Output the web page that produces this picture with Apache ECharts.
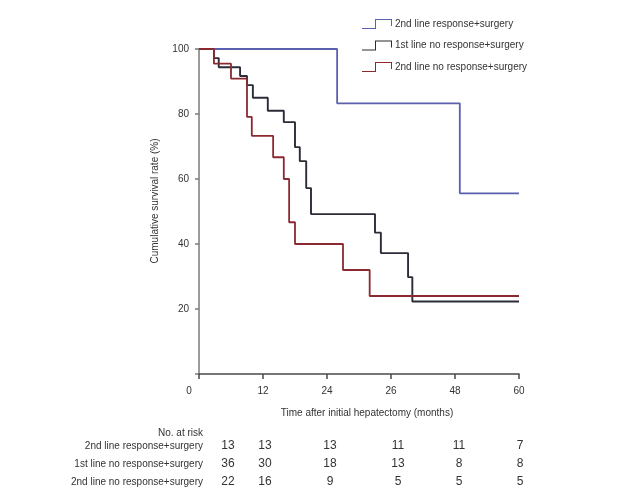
<!DOCTYPE html>
<html>
<head>
<meta charset="utf-8">
<script src="https://cdn.jsdelivr.net/npm/echarts@6/dist/echarts.min.js"></script>
<style>html,body{margin:0;padding:0;background:#fff;}#c{width:640px;height:500px;}</style>
</head>
<body>
<div id="c"></div>
<script>
var seriesNames = ['2nd line response+surgery', '1st line no response+surgery', '2nd line no response+surgery'];
var blueData = [[0,100],[25.9,83.3],[48.9,55.6],[60,55.6]];
var blackData = [[0,100],[2.8,97.2],[3.7,94.4],[7.7,91.7],[9.0,88.9],[10.1,85.0],[12.9,81.0],[15.9,77.5],[18.0,69.8],[18.9,65.5],[20.1,57.2],[21.0,49.2],[33.0,43.5],[34.1,37.2],[39.2,29.8],[40.0,22.3],[60,22.3]];
var redData = [[0,100],[2.8,95.5],[6.0,90.9],[9.0,79.1],[9.9,73.3],[13.9,66.7],[15.9,60.0],[16.9,46.7],[18.0,40.0],[27.0,32.0],[32.0,24.0],[60,24.0]];
var xTickLabels = ['0','12','24','26','48','60'];
var yTickLabels = ['', '20', '40', '60', '80', '100'];
var riskTitle = 'No. at risk';
var riskBlue = [13, 13, 13, 11, 11, 7];
var riskBlack = [36, 30, 18, 13, 8, 8];
var riskRed = [22, 16, 9, 5, 5, 5];
var xTitle = 'Time after initial hepatectomy (months)';
var yTitle = 'Cumulative survival rate (%)';

var FONT = 'Arial, "Liberation Sans", Helvetica, sans-serif';
var colors = ['#5a5fae', '#2b2c38', '#8a2a30'];
var txt = '#333';

var chart = echarts.init(document.getElementById('c'), null, {renderer: 'canvas'});

var iconPath = 'path://M0,9 L13,9 L13,0 L30,0 L30,7 L29,7 L29,1 L14,1 L14,10 L0,10 Z';

var riskRows = [riskBlue, riskBlack, riskRed];
var colX = [228, 265, 330, 398, 459, 520];
var rowY = [446, 464, 482];
var graphics = [];
graphics.push({type:'text', x: 203, y: 433, style:{text: riskTitle, font: '10px ' + FONT, fill: txt, align:'right', verticalAlign:'middle'}});
for (var r = 0; r < 3; r++) {
  graphics.push({type:'text', x: 203, y: rowY[r], style:{text: seriesNames[r], font: '10px ' + FONT, fill: txt, align:'right', verticalAlign:'middle'}});
  for (var c = 0; c < riskRows[r].length; c++) {
    graphics.push({type:'text', x: colX[c], y: rowY[r], style:{text: String(riskRows[r][c]), font: '12px ' + FONT, fill: txt, align:'center', verticalAlign:'middle'}});
  }
}
graphics.push({type:'text', x: 367, y: 413, style:{text: xTitle, font: '10px ' + FONT, fill: txt, align:'center', verticalAlign:'middle'}});
graphics.push({type:'text', x: 155, y: 201, rotation: Math.PI/2, style:{text: yTitle, font: '10px ' + FONT, fill: txt, align:'center', verticalAlign:'middle'}});

var option = {
  animation: false,
  backgroundColor: '#fff',
  textStyle: {fontFamily: FONT},
  grid: {left: 199, right: 121, top: 49, bottom: 126, containLabel: false},
  legend: {
    orient: 'vertical',
    left: 362,
    top: 19,
    padding: 0,
    itemWidth: 30,
    itemHeight: 10,
    itemGap: 11.5,
    textStyle: {fontSize: 10, color: txt, fontFamily: FONT, padding: [0,0,0,-2]},
    itemStyle: {borderWidth: 0},
    data: seriesNames.map(function(n){ return {name: n, icon: iconPath}; })
  },
  xAxis: {
    type: 'value', min: 0, max: 60, interval: 12,
    axisLine: {show: true, lineStyle: {color: '#4a4a4a', width: 1.5}},
    axisTick: {show: true, length: 5, lineStyle: {color: '#4a4a4a', width: 1.5}},
    splitLine: {show: false},
    axisLabel: {
      margin: 12, fontSize: 10, color: txt, fontFamily: FONT,
      formatter: function(v){ var i = Math.round(v/12); return i === 0 ? '{z|' + xTickLabels[0] + '}' : xTickLabels[i]; },
      rich: {z: {fontSize: 10, color: txt, fontFamily: FONT, padding: [0, 20, 0, 0]}}
    }
  },
  yAxis: {
    type: 'value', min: 0, max: 100, interval: 20,
    axisLine: {show: true, lineStyle: {color: '#7a7a7a', width: 1.5}},
    axisTick: {show: true, length: 4, lineStyle: {color: '#7a7a7a', width: 1.5}},
    splitLine: {show: false},
    axisLabel: {
      margin: 10, fontSize: 10, color: txt, fontFamily: FONT,
      formatter: function(v){ return yTickLabels[Math.round(v/20)]; }
    }
  },
  series: [
    {name: seriesNames[0], type: 'line', step: 'end', data: blueData, showSymbol: false, symbol: 'none', clip: false,
     lineStyle: {color: colors[0], width: 1.8}, itemStyle: {color: colors[0]}, z: 3},
    {name: seriesNames[1], type: 'line', step: 'end', data: blackData, showSymbol: false, symbol: 'none', clip: false,
     lineStyle: {color: colors[1], width: 1.9}, itemStyle: {color: colors[1]}, z: 2},
    {name: seriesNames[2], type: 'line', step: 'end', data: redData, showSymbol: false, symbol: 'none', clip: false,
     lineStyle: {color: colors[2], width: 1.8}, itemStyle: {color: colors[2]}, z: 4}
  ],
  graphic: graphics
};
chart.setOption(option);
</script>
</body>
</html>
